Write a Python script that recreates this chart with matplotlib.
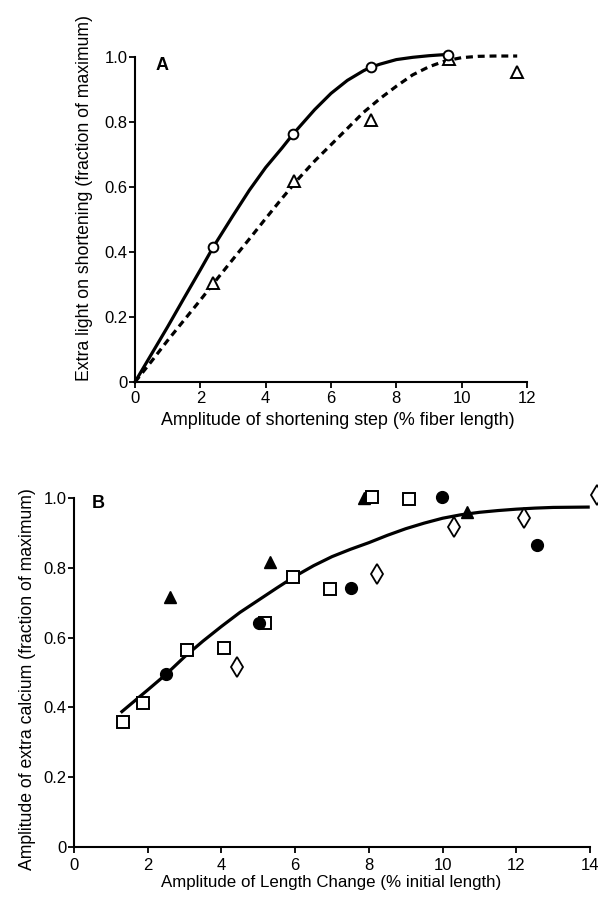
import matplotlib
matplotlib.use("Agg")
import matplotlib.pyplot as plt

plt.rcParams['font.family'] = ['Liberation Sans', 'DejaVu Sans']
plt.rcParams['lines.scale_dashes'] = False

# ---------------- Panel A data ----------------
a_xticks = [0, 2, 4, 6, 8, 10, 12]
a_xticklabels = ["0", "2", "4", "6", "8", "10", "12"]
a_yticks = [0, 0.2, 0.4, 0.6, 0.8, 1.0]
a_yticklabels = ["0", "0.2", "0.4", "0.6", "0.8", "1.0"]

light_circle_x = [2.40, 4.84, 7.21, 9.57]
light_circle_y = [0.416, 0.763, 0.968, 1.005]
light_tri_x = [2.40, 4.86, 7.22, 9.61, 11.69]
light_tri_y = [0.306, 0.620, 0.806, 0.993, 0.955]

solid_curve_x = [0, 0.5, 1.0, 1.5, 2.0, 2.4, 3.0, 3.5, 4.0, 4.5, 4.84, 5.5, 6.0,
                 6.5, 7.0, 7.21, 7.5, 8.0, 8.5, 9.0, 9.57]
solid_curve_y = [0, 0.085, 0.17, 0.258, 0.345, 0.416, 0.512, 0.59, 0.66, 0.72, 0.763,
                 0.838, 0.888, 0.928, 0.958, 0.968, 0.978, 0.992, 0.999, 1.004, 1.008]

dashed_curve_x = [0, 0.5, 1.0, 1.5, 2.0, 2.4, 3.0, 3.5, 4.0, 4.5, 5.0, 5.5, 6.0, 6.5,
                  7.0, 7.5, 8.0, 8.5, 9.0, 9.5, 10.0, 10.5, 11.0, 11.7]
dashed_curve_y = [0, 0.063, 0.128, 0.19, 0.252, 0.303, 0.378, 0.44, 0.503, 0.565, 0.625,
                  0.68, 0.73, 0.78, 0.83, 0.872, 0.91, 0.945, 0.97, 0.988, 0.998, 1.002,
                  1.003, 1.003]

# ---------------- Panel B data ----------------
b_xticks = [0, 2, 4, 6, 8, 10, 12, 14]
b_xticklabels = ["0", "2", "4", "6", "8", "10", "12", "14"]
b_yticks = [0, 0.2, 0.4, 0.6, 0.8, 1.0]
b_yticklabels = ["0", "0.2", "0.4", "0.6", "0.8", "1.0"]

sq_x = [1.32, 1.88, 3.06, 4.08, 5.18, 5.95, 6.95, 8.08, 9.10]
sq_y = [0.359, 0.412, 0.564, 0.571, 0.643, 0.774, 0.739, 1.004, 0.996]
fc_x = [2.50, 5.02, 7.52, 9.99, 12.55]
fc_y = [0.495, 0.643, 0.742, 1.004, 0.864]
ft_x = [2.60, 5.32, 7.86, 10.65]
ft_y = [0.717, 0.818, 1.000, 0.961]
dm_x = [4.41, 8.23, 10.32, 12.21, 14.18]
dm_y = [0.517, 0.781, 0.918, 0.944, 1.009]

b_curve_x = [1.3, 2.0, 2.5, 3.0, 3.5, 4.0, 4.5, 5.0, 5.5, 6.0, 6.5, 7.0, 7.5, 8.0,
             8.5, 9.0, 9.5, 10.0, 10.5, 11.0, 11.5, 12.0, 12.5, 13.0, 13.95]
b_curve_y = [0.388, 0.45, 0.495, 0.545, 0.59, 0.632, 0.672, 0.707, 0.742, 0.776, 0.806,
             0.832, 0.853, 0.872, 0.893, 0.912, 0.928, 0.942, 0.952, 0.959, 0.964, 0.968,
             0.971, 0.973, 0.974]

W, H = 598, 899
fig = plt.figure(figsize=(W / 100, H / 100), dpi=100)
axA = fig.add_axes([135 / W, (H - 382) / H, 392 / W, 325 / H])
axB = fig.add_axes([74 / W, (H - 847) / H, 516 / W, 349 / H])


def style(ax, xpad):
    for s in ("top", "right"):
        ax.spines[s].set_visible(False)
    for s in ("left", "bottom"):
        ax.spines[s].set_linewidth(1.5)
    ax.tick_params(direction="out", length=4.5, width=1.3, labelsize=12)
    ax.tick_params(axis="x", pad=xpad)
    ax.tick_params(axis="y", pad=1)


# ---- A ----
axA.plot(solid_curve_x, solid_curve_y, color="black", lw=2.3, clip_on=False, zorder=2)
axA.plot(dashed_curve_x, dashed_curve_y, color="black", lw=2.3, dashes=[5, 3.5],
         clip_on=False, zorder=2)
axA.plot(light_circle_x, light_circle_y, "o", ms=7, mfc="white", mec="black", mew=1.4,
         clip_on=False, zorder=4)
axA.plot(light_tri_x, light_tri_y, "^", ms=8.5, mfc="white", mec="black", mew=1.4,
         clip_on=False, zorder=3)
axA.set_xlim(0, 12)
axA.set_ylim(0, 1.0)
axA.set_xticks(a_xticks)
axA.set_xticklabels(a_xticklabels)
axA.set_yticks(a_yticks)
axA.set_yticklabels(a_yticklabels)
style(axA, 2)
axA.set_xlabel("Amplitude of shortening step (% fiber length)", fontsize=12.9)
axA.set_ylabel("Extra light on shortening (fraction of maximum)", fontsize=12.7)
axA.xaxis.set_label_coords(0.518, -0.092)
axA.yaxis.set_label_coords(-0.108, 0.566)
axA.text(0.82, 0.975, "A", fontsize=13, fontweight="bold", ha="center", va="center")

# ---- B ----
axB.plot(b_curve_x, b_curve_y, color="black", lw=2.3, zorder=2, clip_on=False)
axB.plot(ft_x, ft_y, "^", ms=9, color="black", clip_on=False, zorder=3)
axB.plot(sq_x, sq_y, "s", ms=9, mfc="white", mec="black", mew=1.4, clip_on=False, zorder=4)
axB.plot(fc_x, fc_y, "o", ms=8.5, color="black", clip_on=False, zorder=5)
axB.plot(dm_x, dm_y, "d", ms=10, mfc="white", mec="black", mew=1.3, clip_on=False, zorder=4)
axB.set_xlim(0, 14)
axB.set_ylim(0, 1.0)
axB.set_xticks(b_xticks)
axB.set_xticklabels(b_xticklabels)
axB.set_yticks(b_yticks)
axB.set_yticklabels(b_yticklabels)
style(axB, 3.5)
axB.set_xlabel("Amplitude of Length Change (% initial length)", fontsize=12.2)
axB.set_ylabel("Amplitude of extra calcium (fraction of maximum)", fontsize=12.7)
axB.xaxis.set_label_coords(0.498, -0.08)
axB.yaxis.set_label_coords(-0.074, 0.481)
axB.text(0.66, 0.984, "B", fontsize=13, fontweight="bold", ha="center", va="center")

fig.savefig("out.png", dpi=100)
